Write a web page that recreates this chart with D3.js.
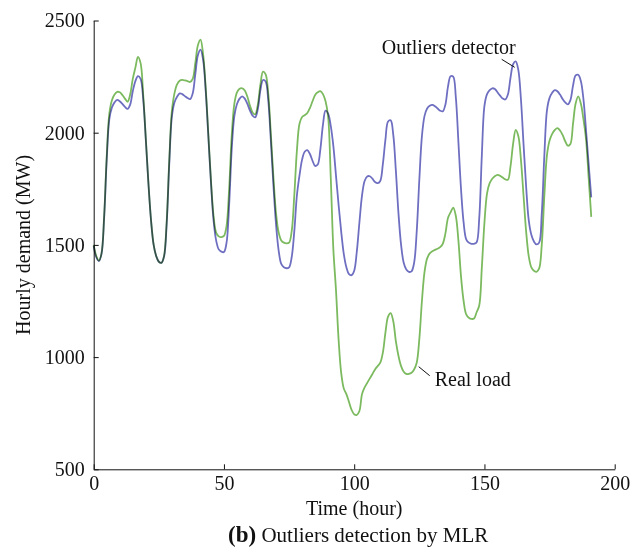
<!DOCTYPE html>
<html>
<head>
<meta charset="utf-8">
<script src="https://cdn.jsdelivr.net/npm/d3@7"></script>
<style>
  body { margin: 0; background: #fff; }
  svg { display: block; font-family: "Liberation Serif", "Times New Roman", serif; }
</style>
</head>
<body>
<div id="chart-area"></div>
<script>
// hourly demand, one row per day (24 values)
const hours = d3.range(0, 192);

const outliersDetector = [
  1495, 1445, 1428, 1460, 1620, 1880, 2060, 2112, 2135, 2146, 2140, 2128, 2115, 2106, 2125, 2185, 2230, 2252, 2240, 2150, 1970, 1775, 1610, 1500,
  1450, 1425, 1420, 1448, 1590, 1860, 2070, 2135, 2160, 2175, 2172, 2163, 2155, 2150, 2175, 2260, 2345, 2370, 2325, 2185, 1985, 1780, 1610, 1520,
  1480, 1470, 1468, 1510, 1680, 1930, 2075, 2128, 2152, 2162, 2152, 2128, 2098, 2076, 2068, 2105, 2190, 2235, 2228, 2145, 1965, 1765, 1590, 1475,
  1415, 1400, 1396, 1400, 1445, 1560, 1720, 1810, 1880, 1915, 1922, 1905, 1875, 1852, 1858, 1925, 2035, 2098, 2085, 2030, 1940, 1810, 1680, 1560,
  1460, 1400, 1370, 1365, 1385, 1470, 1600, 1720, 1785, 1805, 1806, 1795, 1780, 1775, 1785, 1860, 1970, 2050, 2055, 1990, 1830, 1640, 1500, 1420,
  1390, 1380, 1382, 1420, 1560, 1790, 1985, 2075, 2108, 2120, 2124, 2118, 2108, 2098, 2095, 2125, 2205, 2252, 2250, 2160, 1960, 1750, 1600, 1525,
  1510, 1505, 1505, 1512, 1620, 1900, 2120, 2172, 2190, 2198, 2195, 2180, 2165, 2152, 2148, 2170, 2245, 2305, 2318, 2280, 2150, 1950, 1760, 1610,
  1545, 1515, 1502, 1510, 1640, 1900, 2100, 2155, 2178, 2190, 2185, 2170, 2150, 2135, 2126, 2145, 2210, 2255, 2258, 2230, 2150, 2010, 1860, 1712
];

const realLoad = [
  1500, 1450, 1430, 1462, 1625, 1895, 2085, 2145, 2170, 2182, 2180, 2168, 2152, 2138, 2170, 2240, 2290, 2338, 2310, 2170, 1975, 1778, 1612, 1502,
  1450, 1425, 1420, 1450, 1600, 1875, 2095, 2175, 2215, 2232, 2235, 2233, 2230, 2226, 2240, 2310, 2390, 2415, 2350, 2200, 1995, 1790, 1630, 1555,
  1538, 1535, 1540, 1585, 1750, 1990, 2130, 2180, 2196, 2198, 2188, 2160, 2120, 2090, 2082, 2125, 2215, 2272, 2260, 2175, 1995, 1800, 1640, 1555,
  1520, 1510, 1507, 1510, 1560, 1720, 1920, 2040, 2070, 2078, 2088, 2110, 2140, 2168, 2180, 2185, 2172, 2140, 2070, 1800, 1480, 1300, 1080, 930,
  860, 835, 800, 765, 745, 742, 760, 835, 865, 885, 905, 925, 945, 960, 975, 1020, 1110, 1180, 1196, 1160, 1070, 1005, 960, 935,
  925, 925, 930, 945, 975, 1080, 1250, 1380, 1440, 1462, 1472, 1478, 1483, 1490, 1505, 1550, 1620, 1645, 1666, 1630, 1520, 1360, 1250, 1190,
  1175, 1170, 1172, 1200, 1230, 1400, 1600, 1730, 1775, 1795, 1806, 1812, 1808, 1800, 1792, 1790, 1850, 1950, 2012, 1985, 1880, 1720, 1560, 1450,
  1400, 1385, 1380, 1395, 1500, 1720, 1900, 1965, 1995, 2012, 2020, 2010, 1990, 1962, 1942, 1950, 2040, 2130, 2162, 2130, 2060, 1970, 1800, 1625
];

const xTicks = [0, 50, 100, 150, 200];
const yTicks = [500, 1000, 1500, 2000, 2500];

const canvasWidth = 632;
const canvasHeight = 547;
const margin = {left: 93.7, top: 20.5, right: 17.3, bottom: 77.7};
const chartWidth = canvasWidth - margin.left - margin.right;
const chartHeight = canvasHeight - margin.top - margin.bottom;

const canvas = d3.select("#chart-area").append("svg")
  .attr("width", canvasWidth).attr("height", canvasHeight);

const chartGroup = canvas.append("g").attr("transform", `translate(${margin.left}, ${margin.top})`);

const xScale = d3.scaleLinear().domain([0, 200]).range([0, chartWidth]);
const yScale = d3.scaleLinear().domain([500, 2500]).range([chartHeight, 0]);

// axes: ticks point inward
const xAxis = d3.axisBottom(xScale).tickValues(xTicks).tickFormat(d3.format("d"))
  .tickSizeInner(-5).tickSizeOuter(0).tickPadding(7);
const yAxis = d3.axisLeft(yScale).tickValues(yTicks).tickFormat(d3.format("d"))
  .tickSizeInner(-5).tickSizeOuter(0).tickPadding(9);

const xAxisGroup = chartGroup.append("g").attr("transform", `translate(0, ${chartHeight})`).call(xAxis);
const yAxisGroup = chartGroup.append("g").call(yAxis);

[xAxisGroup, yAxisGroup].forEach(g => {
  g.selectAll("text").attr("font-size", "20px").attr("font-family", "Liberation Serif, serif").attr("fill", "#111");
  g.selectAll("path, line").attr("stroke", "#111");
});

const line = values => d3.line()
  .x((d, i) => xScale(hours[i]))
  .y(d => yScale(d))
  .curve(d3.curveCatmullRom)(values);

chartGroup.append("path")
  .attr("d", line(realLoad))
  .attr("fill", "none")
  .attr("stroke", "#7cba5f")
  .attr("stroke-width", 1.8)
  .style("mix-blend-mode", "multiply");

chartGroup.append("path")
  .attr("d", line(outliersDetector))
  .attr("fill", "none")
  .attr("stroke", "#6f6fc2")
  .attr("stroke-width", 1.8)
  .style("mix-blend-mode", "multiply");

// annotations with leader lines
const annotations = [
  {label: "Outliers detector", hour: 162, values: outliersDetector, line: [-14, -2, -1, 6], text: [-67, -7.5], anchor: "middle"},
  {label: "Real load", hour: 124, values: realLoad, line: [2, 4, 13, 13], text: [18, 23], anchor: "start"}
];

annotations.forEach(a => {
  const px = xScale(a.hour);
  const py = yScale(a.values[a.hour]);
  chartGroup.append("line")
    .attr("x1", px + a.line[0]).attr("y1", py + a.line[1])
    .attr("x2", px + a.line[2]).attr("y2", py + a.line[3])
    .attr("stroke", "#111").attr("stroke-width", 1);
  chartGroup.append("text")
    .attr("x", px + a.text[0]).attr("y", py + a.text[1])
    .attr("text-anchor", a.anchor)
    .attr("font-size", "20px")
    .attr("fill", "#111")
    .text(a.label);
});

// axis titles
chartGroup.append("text")
  .attr("font-size", "20px")
  .attr("text-anchor", "middle")
  .attr("fill", "#111")
  .attr("transform", `translate(${xScale(100)}, ${chartHeight + 45.5})`)
  .text("Time (hour)");

chartGroup.append("text")
  .attr("font-size", "20px")
  .attr("text-anchor", "middle")
  .attr("fill", "#111")
  .attr("x", -(chartHeight / 2))
  .attr("y", -64)
  .attr("transform", "rotate(-90)")
  .text("Hourly demand (MW)");

const caption = chartGroup.append("text")
  .attr("text-anchor", "middle")
  .attr("fill", "#111")
  .attr("transform", `translate(${xScale(100) + 4}, ${chartHeight + 72.5})`);
caption.append("tspan").attr("font-size", "23px").attr("font-weight", "bold").text("(b)");
caption.append("tspan").attr("font-size", "21px").text(" Outliers detection by MLR");
</script>
</body>
</html>
